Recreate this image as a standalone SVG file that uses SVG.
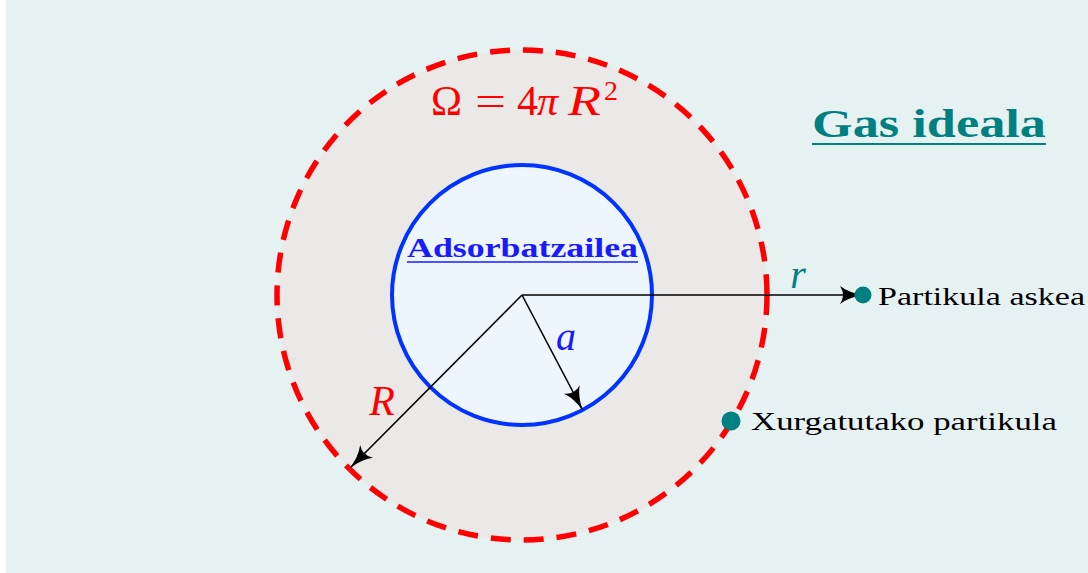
<svg xmlns="http://www.w3.org/2000/svg" width="1088" height="573" viewBox="0 0 1088 573">
<style>
.lbl{font-family:"Liberation Serif",serif;fill:#000;font-size:26px}
.math{font-family:"Liberation Serif",serif;font-style:italic}
.arr{stroke:#000;stroke-width:1.6;fill:none;marker-end:url(#ah)}
</style>
<defs>
<marker id="ah" viewBox="0 0 24 18" refX="22" refY="9" markerWidth="24" markerHeight="18" markerUnits="userSpaceOnUse" orient="auto">
<path d="M0,0 Q9,7 24,9 Q9,11 0,18 Q6,9 0,0 Z" fill="#000"/>
</marker>
</defs>
<rect x="6" y="0" width="1082" height="573" fill="#e6f2f2"/>
<g id="outer">
<circle cx="522" cy="295" r="245" fill="#ebe9e7" stroke="#ff0000" stroke-width="5.5" stroke-dasharray="20,13"/>
<g font-family="Liberation Serif,serif" font-size="42" fill="#ff0000">
<text x="431" y="115" textLength="31" lengthAdjust="spacingAndGlyphs">Ω</text>
<text x="475" y="115" textLength="31" lengthAdjust="spacingAndGlyphs">=</text>
<text x="517" y="115">4</text>
<text x="537" y="115" font-style="italic">π</text>
<text x="568" y="115" font-style="italic" textLength="33" lengthAdjust="spacingAndGlyphs">R</text>
<text x="604" y="100" font-size="28">2</text>
</g>
</g>
<g id="inner">
<circle cx="522" cy="295" r="130" fill="#eef6fd" stroke="#0033ff" stroke-width="4"/>
<text x="407" y="257" font-family="Liberation Serif,serif" font-weight="bold" font-size="28" fill="#1a1aff" textLength="231" lengthAdjust="spacingAndGlyphs">Adsorbatzailea</text>
<line x1="407" y1="262" x2="638" y2="262" stroke="#1a1aff" stroke-width="1.6"/>
</g>
<g id="title">
<text x="812" y="137" font-family="Liberation Serif,serif" font-weight="bold" font-size="40" fill="#008080" textLength="234" lengthAdjust="spacingAndGlyphs">Gas ideala</text>
<line x1="812" y1="144" x2="1046" y2="144" stroke="#008080" stroke-width="2"/>
</g>
<g id="connectors">
<line class="arr" x1="522" y1="295" x2="862" y2="295"/>
<line class="arr" x1="522" y1="295" x2="582" y2="409"/>
<line class="arr" x1="522" y1="295" x2="351" y2="467"/>
<text class="math" x="798" y="288" text-anchor="middle" font-size="40" fill="#008080">r</text>
<text class="math" x="566" y="350" text-anchor="middle" font-size="40" fill="#1a1aff">a</text>
<text class="math" x="382" y="415" text-anchor="middle" font-size="42" fill="#ff0000">R</text>
</g>
<g id="free">
<circle cx="863" cy="295" r="8.5" fill="#008080"/>
<text class="lbl" x="878" y="305" textLength="207" lengthAdjust="spacingAndGlyphs">Partikula askea</text>
</g>
<g id="adsorbed">
<circle cx="731" cy="421" r="9.5" fill="#008080"/>
<text class="lbl" x="751" y="430" textLength="306" lengthAdjust="spacingAndGlyphs">Xurgatutako partikula</text>
</g>
</svg>
